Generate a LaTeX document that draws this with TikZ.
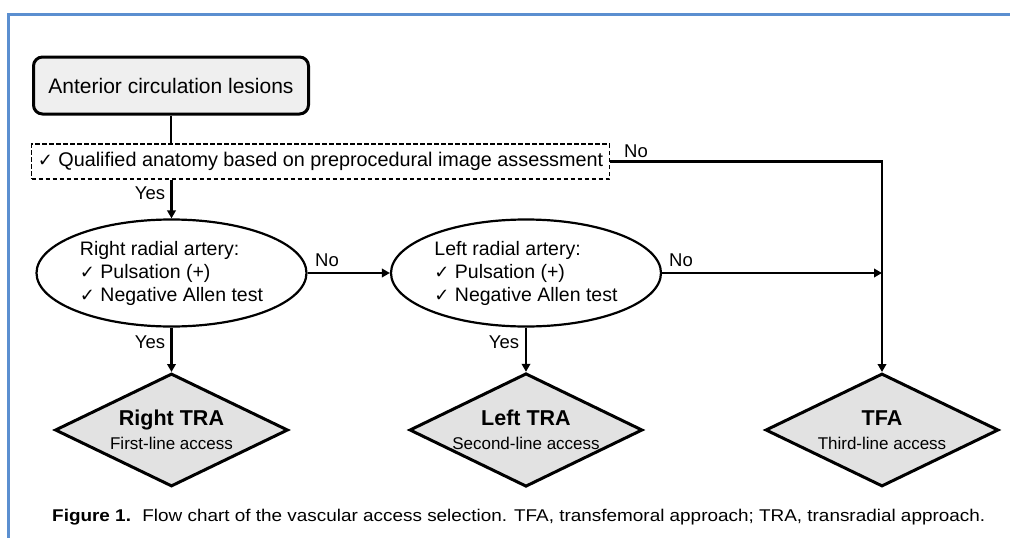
\documentclass[tikz,border=0pt]{standalone}
\usepackage{graphicx}
\usepackage{fontspec}
\setmainfont{Liberation Sans}
\newfontfamily\symfont{DejaVu Sans}
\usetikzlibrary{shapes.geometric,arrows.meta,calc}
\definecolor{frameblue}{HTML}{5B8FD0}
\definecolor{boxfill}{HTML}{EFEFEF}
\definecolor{diafill}{HTML}{E2E2E2}
% check mark used in front of the criteria
\newcommand{\ck}{{\symfont\fontsize{18}{18}\selectfont ✓}\ }
\begin{document}
\begin{tikzpicture}[x=1pt,y=-1pt,
  conn/.style={line width=2.8pt},
  arr/.style={conn,-{Triangle[length=8pt,width=8.5pt]}},
  lbl/.style={font=\fontsize{18.5}{21}\selectfont,inner sep=0pt},
  startbox/.style={draw,line width=3pt,rounded corners=9pt,fill=boxfill,
    minimum width=275pt,minimum height=57pt,font=\fontsize{21}{25}\selectfont},
  checkbox/.style={draw,dash pattern=on 4.5pt off 2.5pt,line width=1.6pt,
    minimum width=578pt,minimum height=35pt,inner sep=0pt,font=\fontsize{19.8}{23}\selectfont},
  test/.style={ellipse,draw,line width=2.2pt,minimum width=270pt,minimum height=107pt,
    inner sep=0pt,align=left,font=\fontsize{19.5}{23}\selectfont},
  access/.style={diamond,draw,line width=3pt,fill=diafill,shape aspect=2,
    minimum width=233pt,minimum height=113pt,inner sep=0pt,align=center,
    font=\fontsize{17}{24}\selectfont},
]
\useasboundingbox (0,0) rectangle (1010,538);

% page frame
\draw[frameblue,line width=3pt] (8.5,538) -- (8.5,14.5) -- (1010,14.5);

% boxes
\node[startbox] (start) at (171,85.5) {Anterior circulation lesions};
\node[checkbox] (qual) at (320.5,161.5) {\ck Qualified anatomy based on preprocedural image assessment};
\node[test] (right) at (171.5,273) {Right radial artery:\\\ck Pulsation (+)\\\ck Negative Allen test};
\node[test] (left) at (526,273) {Left radial artery:\\\ck Pulsation (+)\\\ck Negative Allen test};
\node[access] (rtra) at (171.5,430) {\raisebox{3pt}{\bfseries\fontsize{21.5}{24}\selectfont Right TRA}\\[-3pt]First-line access};
\node[access] (ltra) at (526,430) {\raisebox{3pt}{\bfseries\fontsize{21.5}{24}\selectfont Left TRA}\\[-3pt]Second-line access};
\node[access] (tfa) at (882,430) {\raisebox{3pt}{\bfseries\fontsize{21.5}{24}\selectfont TFA}\\[-3pt]Third-line access};

% connectors
\draw[conn] (start.south) -- (start.south |- qual.north);
\draw[arr] (qual.south -| right.north) -- (right.north);
\draw[arr] (right.east) -- (left.west);
\coordinate (turn) at (tfa.north |- qual.east);
\draw[arr] (qual.east) -- (turn) -- (tfa.north);
\coordinate (join) at (tfa.north |- left.east);
\draw[arr] (left.east) -- (join);
\draw[arr] (right.south) -- (rtra.north);
\draw[arr] (left.south) -- (ltra.north);

% branch labels
\node[lbl] (yes1) at (150,193) {Yes};
\node[lbl] (yes2) at (150,342) {Yes};
\node[lbl] (yes3) at (504,342) {Yes};
\node[lbl] (no1) at (636,151) {No};
\node[lbl] (no2) at (327,260) {No};
\node[lbl] (no3) at (681,260) {No};

% caption
\node[anchor=west,inner sep=0pt,font=\fontsize{17}{20}\selectfont] (cap) at (52,517)
  {\resizebox{933pt}{\height}{\textbf{Figure 1.}\hspace{0.6em}Flow chart of the vascular access selection. TFA, transfemoral approach; TRA, transradial approach.}};
\end{tikzpicture}
\end{document}
